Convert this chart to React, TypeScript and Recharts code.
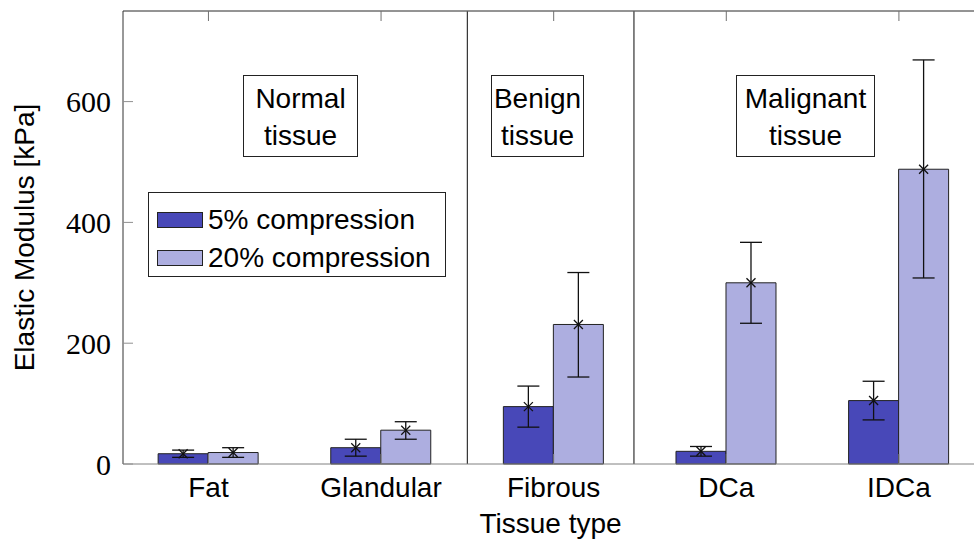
import React from "react";
import {
  BarChart,
  Bar,
  XAxis,
  YAxis,
  ErrorBar,
  LabelList,
  ReferenceLine,
} from "recharts";

const categories = ["Fat", "Glandular", "Fibrous", "DCa", "IDCa"];
const modulus5 = [17, 27, 95, 21, 105];
const modulus20 = [19, 56, 231, 300, 488];
// [below, above] deltas
const err5 = [
  [6, 6],
  [14, 14],
  [34, 34],
  [8, 8],
  [32, 32],
];
const err20 = [
  [8, 8],
  [15, 14],
  [87, 86],
  [67, 67],
  [180, 181],
];
const yTicks = [0, 200, 400, 600];
const groupBreaks = [1.5, 2.465];
const seriesNames = ["5% compression", "20% compression"];
const groupLabels = [
  { lines: ["Normal", "tissue"], left: 243, width: 115 },
  { lines: ["Benign", "tissue"], left: 491, width: 93 },
  { lines: ["Malignant", "tissue"], left: 736, width: 139 },
];

const DARK = "#4848b8";
const LIGHT = "#adaee0";
const SANS = "'Liberation Sans', Arial, sans-serif";
const SERIF = "'Liberation Serif', 'Times New Roman', serif";
const X_DOMAIN = [-0.495, 4.435];

const data = categories.map((name, i) => ({
  idx: i,
  name,
  m5: modulus5[i],
  m20: modulus20[i],
  e5: err5[i],
  e20: err20[i],
}));

const Cross = (props: any) => {
  const { x, y, width } = props;
  const cx = x + width / 2;
  const s = 4.5;
  return (
    <g stroke="#111" strokeWidth={1.3}>
      <line x1={cx - s} y1={y - s} x2={cx + s} y2={y + s} />
      <line x1={cx - s} y1={y + s} x2={cx + s} y2={y - s} />
    </g>
  );
};

export default function App() {
  return (
    <div
      style={{
        position: "fixed",
        left: 0,
        top: 0,
        width: 974,
        height: 546,
        background: "#fff",
        fontFamily: SANS,
        overflow: "hidden",
      }}
    >
      <BarChart
        width={974}
        height={546}
        data={data}
        margin={{ top: 11, right: 0, bottom: 0, left: 0 }}
        barGap={0}
      >
        <XAxis
          dataKey="idx"
          type="number"
          domain={X_DOMAIN}
          ticks={[0, 1, 2, 3, 4]}
          tickFormatter={(v: number) => categories[v] ?? ""}
          height={82}
          tickSize={-10}
          tickMargin={23}
          stroke="#808080"
          tick={{ fill: "#000", fontSize: 28, fontFamily: SANS }}
          label={{
            value: "Tissue type",
            position: "center",
            dx: 2,
            dy: 18,
            style: { fill: "#000", fontSize: 28, fontFamily: SANS },
          }}
        />
        <XAxis
          xAxisId="top"
          dataKey="idx"
          orientation="top"
          type="number"
          domain={X_DOMAIN}
          ticks={[0, 1, 2, 3, 4]}
          tickFormatter={() => ""}
          mirror
          tickSize={10}
          stroke="#707070"
        />
        <YAxis
          type="number"
          domain={[0, 750]}
          ticks={yTicks}
          width={123}
          tickSize={-10}
          tickMargin={22}
          stroke="#333"
          tickLine={{ stroke: "#909090" }}
          tick={{ fill: "#000", fontSize: 30, fontFamily: SERIF }}
          label={{
            value: "Elastic Modulus [kPa]",
            angle: -90,
            position: "center",
            dx: -37,
            style: { fill: "#000", fontSize: 28, fontFamily: SANS },
          }}
        />
        <ReferenceLine y={750} stroke="#707070" strokeWidth={1.2} />
        {groupBreaks.map((b) => (
          <ReferenceLine key={b} x={b} stroke="#333" strokeWidth={1.2} />
        ))}
        <Bar
          dataKey="m5"
          name={seriesNames[0]}
          fill={DARK}
          stroke="#222"
          strokeWidth={1}
          barSize={50}
          isAnimationActive={false}
        >
          <ErrorBar dataKey="e5" width={11} stroke="#111" strokeWidth={1.3} direction="y" />
          <LabelList dataKey="m5" content={Cross} />
        </Bar>
        <Bar
          dataKey="m20"
          name={seriesNames[1]}
          fill={LIGHT}
          stroke="#222"
          strokeWidth={1}
          barSize={50}
          isAnimationActive={false}
        >
          <ErrorBar dataKey="e20" width={11} stroke="#111" strokeWidth={1.3} direction="y" />
          <LabelList dataKey="m20" content={Cross} />
        </Bar>
      </BarChart>

      {groupLabels.map((g) => (
        <div
          key={g.lines[0]}
          style={{
            position: "absolute",
            left: g.left,
            top: 75,
            width: g.width,
            height: 82,
            boxSizing: "border-box",
            border: "1px solid #222",
            background: "#fff",
            paddingTop: 4,
            textAlign: "center",
            fontSize: 28,
            lineHeight: "37px",
            color: "#000",
          }}
        >
          {g.lines.map((l) => (
            <div key={l}>{l}</div>
          ))}
        </div>
      ))}

      <div
        style={{
          position: "absolute",
          left: 148,
          top: 192,
          width: 298,
          height: 85,
          boxSizing: "border-box",
          border: "1px solid #222",
          background: "#fff",
          paddingTop: 8,
          paddingLeft: 8,
        }}
      >
        {seriesNames.map((n, i) => (
          <div
            key={n}
            style={{
              display: "flex",
              alignItems: "center",
              height: 38,
              fontSize: 28,
              lineHeight: "38px",
            }}
          >
            <span
              style={{
                display: "inline-block",
                width: 46,
                height: 16,
                boxSizing: "border-box",
                border: "1px solid #222",
                background: i === 0 ? DARK : LIGHT,
                marginRight: 5,
              }}
            />
            <span>{n}</span>
          </div>
        ))}
      </div>
    </div>
  );
}
